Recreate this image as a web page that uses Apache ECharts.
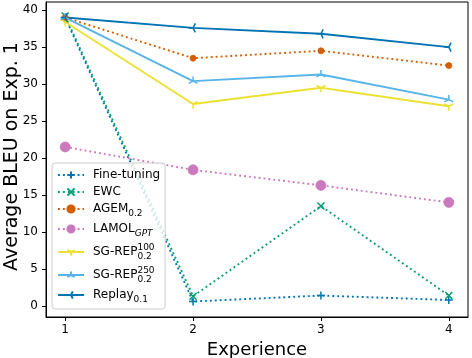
<!DOCTYPE html>
<html>
<head>
<meta charset="utf-8">
<script src="https://cdn.jsdelivr.net/npm/echarts@6/dist/echarts.min.js"></script>
<style>html,body{margin:0;padding:0;background:#fff}#c{width:472px;height:358px}</style>
</head>
<body>
<div id="c"></div>
<script>
const experiences = [1, 2, 3, 4];
const yTicks = [0, 5, 10, 15, 20, 25, 30, 35, 40];
const fineTuning = [39.0, 0.6, 1.4, 0.8];
const ewc = [39.2, 1.3, 13.5, 1.4];
const agem = [39.0, 33.5, 34.5, 32.5];
const lamol = [21.5, 18.4, 16.3, 14.0];
const sgRep100 = [38.4, 27.3, 29.5, 27.0];
const sgRep250 = [39.0, 30.4, 31.3, 27.9];
const replay = [39.0, 37.6, 36.8, 35.0];

const FONT = 'DejaVu Sans';
const pair = arr => arr.map((v, i) => [experiences[i], v]);

const SYM = {
  plus: 'path://M0,4H8M4,0V8',
  cross: 'path://M0,0L8,8M0,8L8,0',
  triDown: 'path://M4,4.6V9.2M4,4.6L0,2.3M4,4.6L8,2.3M0,0M8,0',
  triUp: 'path://M4,4.6V0M4,4.6L0,6.9M4,4.6L8,6.9M0,9.2M8,9.2',
  triLeft: 'path://M4.6,4H0M4.6,4L6.9,0M4.6,4L6.9,8M9.2,4'
};

function mk(name, data, color, dotted, symbol, size, strokeSym, width) {
  return {
    name: name, type: 'line', data: pair(data),
    symbol: symbol, symbolSize: size, showSymbol: true,
    lineStyle: { color: color, width: width || 1.9, type: dotted ? [1.9, 3] : 'solid', cap: 'butt' },
    itemStyle: strokeSym ? { color: color, borderColor: color, borderWidth: 1.5 } : { color: color, borderColor: color, borderWidth: 0.8 },
    emphasis: { disabled: true },
    animation: false
  };
}

const chart = echarts.init(document.getElementById('c'), null, { renderer: 'canvas' });
chart.setOption({
  animation: false,
  textStyle: { fontFamily: FONT },
  grid: { left: 46, right: 4, top: 2, bottom: 41, show: true, borderColor: '#000', borderWidth: 1, containLabel: false, outerBoundsMode: 'none' },
  xAxis: {
    type: 'value', min: 0.85, max: 4.15,
    name: 'Experience', nameLocation: 'middle', nameGap: 24, nameMoveOverlap: false,
    nameTextStyle: { fontSize: 18, color: '#000', fontFamily: FONT },
    axisLine: { show: true, onZero: false, lineStyle: { color: '#000', width: 1 } },
    axisTick: { show: true, length: 4, lineStyle: { color: '#000' }, customValues: experiences },
    axisLabel: { fontSize: 12, color: '#000', margin: 7, fontFamily: FONT, customValues: experiences },
    splitLine: { show: false }
  },
  yAxis: {
    type: 'value', min: -1.5, max: 41.1,
    name: 'Average BLEU on Exp. 1', nameLocation: 'middle', nameGap: 24, nameRotate: 90, nameMoveOverlap: false,
    nameTextStyle: { fontSize: 19, color: '#000', fontFamily: FONT, padding: [0, 0, 0, 6] },
    axisLine: { show: true, onZero: false, lineStyle: { color: '#000', width: 1 } },
    axisTick: { show: true, length: 4, lineStyle: { color: '#000' }, customValues: yTicks },
    axisLabel: { fontSize: 12, color: '#000', margin: 8, fontFamily: FONT, customValues: yTicks },
    splitLine: { show: false }
  },
  legend: {
    orient: 'vertical', left: 52, top: 163, z: 20,
    padding: [6, 5, 5, 5], itemGap: 5, itemWidth: 26, itemHeight: 9,
    backgroundColor: 'rgba(255,255,255,0.8)', borderColor: '#cccccc', borderWidth: 1, borderRadius: 3,
    textStyle: {
      fontSize: 12, color: '#000', fontFamily: FONT, padding: [0, 0, 0, 4],
      rich: {
        sub: { fontSize: 9, fontFamily: FONT, color: '#000', verticalAlign: 'bottom', lineHeight: 9, padding: [0, 0, -3, 0] },
        subi: { fontSize: 9, fontFamily: FONT, fontStyle: 'italic', color: '#000', verticalAlign: 'bottom', lineHeight: 9, padding: [0, 0, -3, 0] },
        sup: { fontSize: 9, fontFamily: FONT, color: '#000', verticalAlign: 'top', lineHeight: 9, width: 0, padding: [-3, 0, 0, 0] },
        sub2: { fontSize: 9, fontFamily: FONT, color: '#000', verticalAlign: 'bottom', lineHeight: 9, padding: [0, 0, -3, 0] }
      }
    },
    formatter: function (n) {
      if (n === 'AGEM_0.2') return 'AGEM{sub|0.2}';
      if (n === 'LAMOL_GPT') return 'LAMOL{subi|GPT}';
      if (n === 'SG-REP100') return 'SG-REP{sup|100}{sub2|0.2}';
      if (n === 'SG-REP250') return 'SG-REP{sup|250}{sub2|0.2}';
      if (n === 'Replay_0.1') return 'Replay{sub|0.1}';
      return n;
    },
    data: ['Fine-tuning', 'EWC', 'AGEM_0.2', 'LAMOL_GPT', 'SG-REP100', 'SG-REP250', 'Replay_0.1']
  },
  series: [
    mk('Fine-tuning', fineTuning, '#0173B2', true, SYM.plus, 8, true),
    mk('EWC', ewc, '#029E73', true, SYM.cross, 7, true),
    mk('AGEM_0.2', agem, '#D55E00', true, 'circle', 6, false),
    mk('LAMOL_GPT', lamol, '#CC78BC', true, 'circle', 10, false),
    mk('SG-REP100', sgRep100, '#ECE133', false, SYM.triDown, 9, true),
    mk('SG-REP250', sgRep250, '#56B4E9', false, SYM.triUp, 9, true),
    mk('Replay_0.1', replay, '#0173B2', false, SYM.triLeft, 9, true)
  ]
});
</script>
</body>
</html>
